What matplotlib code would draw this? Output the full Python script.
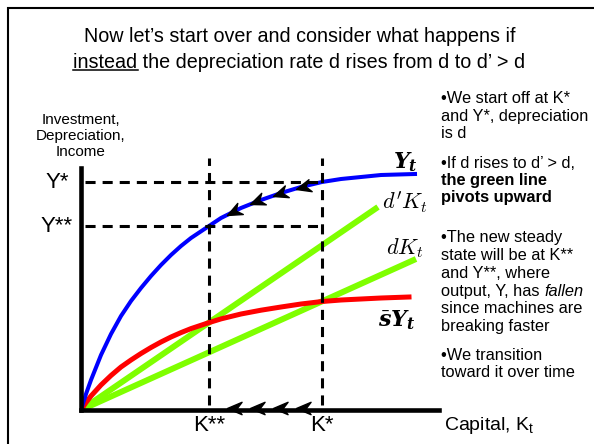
import numpy as np
import matplotlib
matplotlib.use('Agg')
import matplotlib.pyplot as plt
from matplotlib.lines import Line2D
from matplotlib.patches import Rectangle
from matplotlib.path import Path
from matplotlib.markers import MarkerStyle
from matplotlib.transforms import IdentityTransform

plt.rcParams['font.family'] = ['Liberation Sans', 'DejaVu Sans']
plt.rcParams['mathtext.fontset'] = 'custom'
plt.rcParams['mathtext.rm'] = 'DejaVu Serif'
plt.rcParams['mathtext.it'] = 'DejaVu Serif:italic:bold'
plt.rcParams['mathtext.bf'] = 'DejaVu Serif:bold'

# values (arbitrary units)
capital = [0, 0.5, 1, 2, 3, 4, 5, 6, 7, 8, 9, 10, 11, 12.8, 14, 16, 18, 20, 22, 24.1, 26, 28, 30, 33.4]
output = [0, 1.6, 3.0, 5.5, 7.6, 9.4, 10.9, 12.2, 13.4, 14.5, 15.5, 16.4, 17.2, 18.4,
          19.2, 20.2, 21.0, 21.7, 22.3, 22.8, 23.1, 23.3, 23.5, 23.6]
capital_s = [0, 0.5, 1, 2, 3, 4, 5, 6, 7, 8, 9, 10, 11, 12.8, 14, 16, 18, 20, 22, 24.1, 26, 28, 30, 32.8]
savings = [0, 0.75, 1.4, 2.5, 3.45, 4.3, 5.0, 5.65, 6.25, 6.80, 7.30, 7.74, 8.14, 8.74,
           9.11, 9.60, 9.98, 10.3, 10.6, 10.85, 11.0, 11.1, 11.2, 11.3]
dep_high_k = [0, 29.7]
dep_high = [0, 20.3]
dep_low_k = [0, 33.5]
dep_low = [0, 15.1]

k_star, k_2star = 24.1, 12.8
y_star, y_2star = 22.8, 18.4
arrow_k = [14.6, 16.9, 19.2, 21.5]

W, H = 594, 444


def fx(x):
    return x / W


def fy(y):
    return 1 - y / H


# stealth-shaped arrow head, tip at the origin, pointing to -x
stealth = Path([(0, 0), (2, 0.85), (1.35, 0), (2, -0.85), (0, 0)],
               [Path.MOVETO, Path.LINETO, Path.LINETO, Path.LINETO, Path.CLOSEPOLY])


def arrow_head(ax, x, y, xb, yb, z):
    p0 = ax.transData.transform((x, y))
    p1 = ax.transData.transform((xb, yb))
    ang = np.degrees(np.arctan2(p1[1] - p0[1], p1[0] - p0[0]))
    m = MarkerStyle(stealth).rotated(deg=ang)
    ax.plot([x], [y], marker=m, markersize=21, color='black', ls='none',
            zorder=z, clip_on=False)


fig = plt.figure(figsize=(5.94, 4.44), dpi=100)
fig.patch.set_facecolor('white')

# slide frame (only left and top edges visible)
fig.add_artist(Rectangle((fx(8), -0.2), 1.5, fy(8) + 0.2, transform=fig.transFigure,
                         fill=False, ec='black', lw=1.5))

# title
title_fs = 14.2
fig.text(fx(299.5), fy(37), 'Now let\u2019s start over and consider what happens if',
         ha='center', va='center', fontsize=title_fs)
t2 = fig.text(fx(299.5), fy(62), 'instead the depreciation rate d rises from d to d\u2019 > d',
              ha='center', va='center', fontsize=title_fs)

# chart
ax = fig.add_axes([fx(81), 34 / H, 358 / W, 242 / H])
ax.set_xlim(0, 35.8)
ax.set_ylim(0, 24.2)
ax.set_xticks([])
ax.set_yticks([])
ax.patch.set_alpha(0)
for s in ['top', 'right']:
    ax.spines[s].set_visible(False)
for s in ['left', 'bottom']:
    ax.spines[s].set_linewidth(3.3)
    ax.spines[s].set_zorder(6)

green = '#7FFF00'
ax.plot(dep_high_k, dep_high, color=green, lw=4.3, solid_capstyle='butt', zorder=2)
ax.plot(dep_low_k, dep_low, color=green, lw=4.3, solid_capstyle='butt', zorder=2)
ax.plot(capital_s, savings, color='#FF0000', lw=3.6, zorder=3)
ax.plot(capital, output, color='#0000FF', lw=2.9, zorder=3)

dash = (0, (3.3, 2.3))
ax.plot([0.4, k_star], [y_star, y_star], color='black', lw=2.2, ls=dash, zorder=4)
ax.plot([0.4, k_star], [y_2star, y_2star], color='black', lw=2.2, ls=dash, zorder=4)
ax.plot([k_star, k_star], [0.5, 25.2], color='black', lw=2.2, ls=dash, zorder=4, clip_on=False)
ax.plot([k_2star, k_2star], [0.5, 25.2], color='black', lw=2.2, ls=dash, zorder=4, clip_on=False)

# transition arrows along the output curve and the capital axis
for k in arrow_k:
    y0 = np.interp(k, capital, output)
    y1 = np.interp(k + 1.0, capital, output)
    arrow_head(ax, k, y0, k + 1.0, y1, 5)
    arrow_head(ax, k, 0.2, k + 1.0, 0.2, 7)

# curve labels
ax.text(32.4, 24.8, r'$Y_t$', ha='center', va='center', fontsize=16, clip_on=False)
ax.text(32.4, 20.8, r"$d'K_t$", ha='center', va='center', fontsize=16, math_fontfamily='cm')
ax.text(32.4, 16.2, r'$dK_t$', ha='center', va='center', fontsize=16, math_fontfamily='cm')
ax.text(31.55, 9.0, r'$\bar{s}Y_t$', ha='center', va='center', fontsize=16)

# axis labels
ax.text(-2.4, y_star, 'Y*', ha='center', va='center', fontsize=16, clip_on=False)
ax.text(-2.4, y_2star, 'Y**', ha='center', va='center', fontsize=16, clip_on=False)
ax.text(k_star, -1.5, 'K*', ha='center', va='center', fontsize=16, clip_on=False)
ax.text(k_2star, -1.5, 'K**', ha='center', va='center', fontsize=16, clip_on=False)
ax.text(36.3, -1.5, r'Capital, K$\mathregular{_t}$', ha='left', va='center', fontsize=14,
        clip_on=False)
fig.text(fx(81), fy(136), 'Investment,\nDepreciation,\nIncome', ha='center', va='center',
         fontsize=11, linespacing=1.2)

# bullet notes on the right
nx = fx(441)
note_fs = 11.8
notes = [
    (103, '\u2022We start off at K*', 'normal'),
    (120.5, 'and Y*, depreciation', 'normal'),
    (138, 'is d', 'normal'),
    (168, '\u2022If d rises to d\u2019 > d,', 'normal'),
    (185, 'the green line', 'bold'),
    (202, 'pivots upward', 'bold'),
    (242, '\u2022The new steady', 'normal'),
    (260, 'state will be at K**', 'normal'),
    (278, 'and Y**, where', 'normal'),
    (313, 'since machines are', 'normal'),
    (331, 'breaking faster', 'normal'),
    (360, '\u2022We transition', 'normal'),
    (377, 'toward it over time', 'normal'),
]
for y, s, w in notes:
    fig.text(nx, fy(y), s, ha='left', va='baseline', fontsize=note_fs, fontweight=w)
t_out = fig.text(nx, fy(295.5), 'output, Y, has', ha='left', va='baseline', fontsize=note_fs)

fig.canvas.draw()
r = fig.canvas.get_renderer()

# italic word after "output, Y, has"
bb = t_out.get_window_extent(r)
fig.text(fx(bb.x1 + 4.5), fy(295.5), 'fallen', ha='left', va='baseline', fontsize=note_fs,
         style='italic')

# underline "instead"
bb2 = t2.get_window_extent(r)
tmp = fig.text(0, 0, 'instead', fontsize=title_fs)
wd = tmp.get_window_extent(r).width
tmp.remove()
yy = bb2.y0 + 1.5
fig.add_artist(Line2D([bb2.x0, bb2.x0 + wd], [yy, yy], transform=IdentityTransform(),
                      color='black', lw=1.1))

fig.savefig('out.png', dpi=100, facecolor='white')
